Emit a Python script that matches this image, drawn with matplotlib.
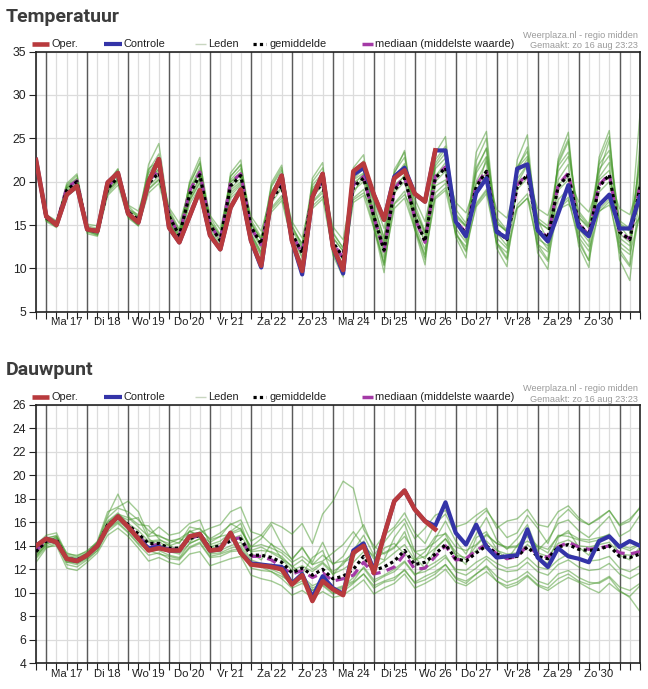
import numpy as np
import matplotlib.pyplot as plt
from matplotlib.lines import Line2D

plt.rcParams['font.family'] = ['Liberation Sans', 'DejaVu Sans']

W, H = 648, 689

# tijdstappen van 6 uur (zo 16 aug 18:00 ... ma 31 aug 12:00)
stappen = np.arange(60)
dagen = ['Ma 17', 'Di 18', 'Wo 19', 'Do 20', 'Vr 21', 'Za 22', 'Zo 23',
         'Ma 24', 'Di 25', 'Wo 26', 'Do 27', 'Vr 28', 'Za 29', 'Zo 30']

# ---------------- Temperatuur ----------------
temp_oper = [22.5, 16.0, 15.0, 18.5, 19.5, 14.5, 14.3, 19.9, 21.0, 16.3,
             15.3, 20.0, 22.6, 14.7, 13.0, 16.0, 19.0, 13.8, 12.2, 17.0,
             19.1, 13.2, 10.3, 18.2, 20.7, 13.2, 9.7, 18.2, 20.9, 12.5,
             9.8, 21.2, 22.1, 18.5, 15.6, 20.4, 21.3, 18.6, 17.7, 23.6]
temp_controle = [22.5, 16.0, 15.0, 18.5, 19.5, 14.5, 14.3, 19.9, 21.0, 16.3,
                 15.3, 20.0, 22.6, 14.7, 13.0, 16.0, 19.0, 13.8, 12.2, 17.0,
                 19.1, 13.2, 10.1, 18.2, 20.7, 13.2, 9.3, 18.2, 20.9, 12.5,
                 9.4, 20.8, 21.6, 18.5, 15.6, 20.6, 21.6, 18.6, 17.7, 23.6,
                 23.6, 15.4, 13.7, 18.7, 20.4, 14.2, 13.5, 21.5, 22.0, 14.4,
                 13.1, 16.3, 19.6, 14.8, 13.7, 17.3, 18.5, 14.6, 14.6, 18.3]
temp_gem = [22.3, 15.8, 15.1, 19.0, 20.0, 14.5, 14.2, 19.2, 20.5, 16.5,
            15.6, 19.8, 21.0, 16.0, 13.8, 18.5, 20.8, 15.0, 13.2, 19.5,
            20.7, 14.8, 12.8, 18.0, 19.5, 14.0, 11.8, 18.5, 19.8, 13.0,
            11.3, 19.4, 20.4, 16.0, 12.1, 19.0, 20.4, 16.0, 13.1, 20.4,
            21.6, 15.4, 14.0, 19.4, 21.2, 14.4, 13.3, 19.4, 20.8, 14.4,
            13.5, 19.4, 20.8, 15.2, 13.8, 19.4, 20.8, 14.2, 13.3, 19.4]
temp_med = [22.4, 15.9, 15.1, 19.3, 20.1, 14.5, 14.2, 19.4, 20.7, 16.6,
            15.5, 20.1, 21.3, 16.2, 13.7, 18.9, 21.1, 15.1, 13.2, 19.9,
            20.9, 14.7, 12.7, 18.3, 19.8, 14.0, 11.7, 18.6, 20.0, 12.9,
            11.2, 19.6, 20.6, 15.9, 12.0, 19.2, 20.6, 15.8, 13.0, 20.6,
            21.7, 15.5, 14.1, 19.6, 21.3, 14.3, 13.4, 19.6, 20.9, 14.5,
            13.6, 19.6, 21.0, 15.1, 13.9, 19.6, 20.9, 14.1, 13.4, 19.6]

temp_lid01 = [22.8,
 16.1, 15.4, 19.8, 20.9, 14.9, 14.6, 19.9, 21.4, 17.2, 16.0, 21.0, 22.6,
 16.8, 14.5, 19.6, 22.3, 15.9, 13.9, 20.6, 22.0, 15.6, 13.6, 19.4, 21.3,
 15.0, 12.5, 20.0, 21.6, 14.2, 12.3, 21.0, 22.4, 17.5, 13.4, 21.1, 22.8,
 17.4, 14.3, 22.5, 24.1, 16.8, 15.2, 21.6, 23.8, 15.9, 14.4, 21.7, 23.5,
 15.8, 14.9, 21.8, 23.4, 16.6, 15.1, 22.0, 23.6, 15.5, 14.6, 22.3]
temp_lid02 = [21.9,
 15.4, 14.7, 18.3, 19.2, 14.0, 13.7, 18.4, 19.6, 15.8, 14.9, 18.7, 19.8,
 15.3, 13.0, 17.4, 19.4, 14.2, 12.4, 18.1, 19.2, 13.9, 11.9, 16.5, 17.8,
 13.1, 10.6, 16.9, 18.0, 11.9, 10.1, 17.6, 18.4, 14.6, 10.7, 16.9, 18.1,
 14.5, 11.6, 18.0, 19.0, 13.9, 12.5, 17.1, 18.6, 12.9, 11.8, 16.9, 18.1,
 12.8, 11.9, 16.8, 17.9, 13.6, 12.0, 16.5, 17.7, 12.5, 11.6, 16.3]
temp_lid03 = [22.4,
 15.7, 15.0, 19.3, 20.3, 14.4, 14.0, 19.5, 20.9, 16.3, 15.2, 20.5, 21.9,
 15.7, 13.4, 19.2, 21.6, 14.6, 12.7, 20.2, 21.5, 14.5, 12.3, 18.9, 20.6,
 13.6, 11.2, 19.6, 21.0, 12.4, 10.5, 20.7, 21.9, 15.4, 11.2, 20.4, 22.1,
 15.1, 12.1, 22.1, 23.8, 14.6, 13.0, 21.3, 23.9, 13.5, 12.3, 21.5, 24.0,
 13.4, 12.6, 22.0, 24.6, 14.1, 12.5, 22.3, 25.2, 13.0, 12.0, 23.4]
temp_lid04 = [22.1,
 15.5, 14.8, 18.8, 19.7, 14.2, 13.8, 18.9, 20.1, 16.0, 15.0, 19.2, 20.3,
 15.4, 13.1, 17.8, 20.0, 14.3, 12.3, 18.7, 19.8, 13.8, 11.6, 17.0, 18.4,
 12.9, 10.4, 17.7, 19.0, 11.7, 9.6, 18.1, 19.1, 14.8, 10.3, 17.5, 18.9,
 14.6, 11.0, 18.7, 19.8, 14.0, 11.9, 17.5, 19.1, 12.8, 11.0, 17.3, 18.6,
 12.4, 10.8, 17.0, 18.2, 13.0, 10.9, 16.8, 18.0, 11.8, 10.2, 16.5]
temp_lid05 = [22.6,
 16.2, 15.5, 19.2, 20.1, 15.1, 14.9, 19.6, 20.8, 17.3, 16.6, 20.4, 21.4,
 17.0, 15.2, 19.1, 21.1, 16.1, 14.5, 20.0, 20.9, 16.0, 14.3, 18.6, 19.8,
 15.4, 13.5, 18.9, 20.0, 14.8, 13.3, 19.9, 20.7, 17.8, 14.6, 19.6, 20.6,
 18.0, 15.4, 20.7, 21.5, 17.6, 16.4, 19.8, 21.0, 16.8, 15.8, 19.9, 20.6,
 16.9, 16.1, 19.7, 20.5, 17.7, 16.5, 19.8, 20.4, 16.9, 16.2, 19.9]
temp_lid06 = [22.2,
 15.6, 14.9, 19.6, 20.7, 14.3, 13.9, 19.9, 21.5, 16.2, 15.1, 21.3, 23.2,
 15.6, 13.2, 20.0, 22.8, 14.4, 12.1, 21.0, 22.5, 14.1, 11.8, 19.6, 21.6,
 13.2, 10.5, 20.4, 22.2, 12.1, 9.6, 21.6, 23.1, 15.2, 10.4, 21.4, 23.4,
 14.9, 11.3, 23.3, 25.2, 14.2, 12.1, 22.4, 25.0, 13.0, 11.2, 22.5, 25.4,
 12.8, 11.0, 22.6, 25.7, 13.4, 10.9, 22.8, 25.9, 12.2, 10.4, 24.6]
temp_lid07 = [22.0,
 16.0, 15.2, 18.6, 19.6, 14.6, 14.5, 18.8, 20.2, 16.8, 16.2, 21.5, 22.4,
 16.3, 13.6, 18.0, 20.4, 15.3, 13.5, 19.0, 20.0, 15.2, 13.4, 18.5, 19.2,
 14.5, 12.9, 17.6, 18.7, 13.6, 12.0, 18.6, 20.8, 16.5, 13.0, 20.5, 21.0,
 16.9, 14.1, 19.5, 20.2, 16.1, 14.9, 18.4, 22.8, 15.2, 14.2, 21.6, 22.9,
 15.6, 13.2, 17.9, 19.2, 15.9, 14.6, 21.0, 24.7, 15.0, 13.4, 27.8]
temp_lid08 = [22.5,
 15.9, 15.2, 18.7, 19.5, 14.6, 14.4, 18.6, 19.9, 16.7, 15.9, 19.1, 20.2,
 16.4, 14.2, 17.8, 19.8, 15.4, 13.8, 18.4, 19.6, 15.1, 13.3, 16.8, 18.1,
 14.4, 12.4, 17.2, 18.3, 13.5, 12.0, 17.9, 18.7, 16.4, 12.9, 17.4, 18.5,
 16.3, 13.8, 18.2, 19.3, 15.9, 14.8, 17.3, 18.9, 15.2, 14.3, 17.0, 18.1,
 15.3, 14.6, 16.8, 17.4, 15.9, 14.8, 16.6, 17.3, 15.0, 14.3, 15.9]
temp_lid09 = [22.3,
 15.6, 14.9, 19.0, 20.0, 14.3, 13.9, 19.2, 20.4, 16.0, 14.9, 19.9, 21.2,
 15.5, 12.9, 18.8, 21.1, 14.2, 12.0, 19.6, 20.9, 13.7, 11.4, 18.3, 19.9,
 12.8, 10.0, 18.8, 20.4, 11.5, 9.0, 19.6, 20.9, 14.7, 9.5, 19.0, 20.8,
 14.4, 10.4, 20.6, 22.2, 13.6, 11.2, 20.0, 22.3, 12.3, 10.2, 19.8, 21.9,
 11.8, 9.9, 20.2, 22.0, 12.6, 10.1, 20.5, 22.2, 11.0, 8.6, 19.0]
temp_lid10 = [22.7,
 16.0, 15.3, 19.5, 20.4, 14.7, 14.4, 19.4, 20.8, 16.9, 15.9, 20.1, 21.5,
 16.5, 14.4, 18.9, 21.3, 15.5, 13.7, 19.9, 21.1, 15.3, 13.3, 18.7, 20.2,
 14.8, 12.8, 19.0, 20.6, 14.0, 12.4, 20.3, 21.5, 17.0, 13.6, 20.0, 21.9,
 16.8, 14.1, 21.8, 23.3, 16.3, 14.9, 21.0, 22.9, 15.5, 14.2, 20.9, 22.6,
 15.5, 14.5, 21.2, 22.9, 16.3, 14.9, 21.4, 23.0, 15.2, 14.4, 21.7]
temp_lid11 = [22.2,
 15.8, 15.0, 18.9, 19.8, 14.4, 14.1, 19.0, 20.3, 16.4, 15.5, 19.5, 20.6,
 15.9, 13.6, 18.2, 20.5, 14.9, 13.0, 19.2, 20.4, 14.7, 12.6, 17.6, 19.2,
 13.8, 11.4, 18.3, 19.5, 12.8, 11.0, 19.0, 20.0, 15.9, 11.8, 18.7, 20.0,
 16.0, 12.9, 20.0, 21.2, 15.5, 13.9, 19.0, 20.7, 14.5, 13.2, 19.1, 20.4,
 14.3, 13.3, 19.0, 20.2, 15.1, 13.8, 18.8, 20.0, 14.0, 13.0, 18.6]
temp_lid12 = [22.4,
 15.9, 15.1, 19.3, 20.2, 14.5, 14.1, 19.6, 21.0, 16.6, 15.4, 22.0, 24.4,
 16.2, 13.9, 19.8, 22.1, 15.0, 13.2, 20.6, 21.9, 14.6, 12.7, 19.9, 21.9,
 13.8, 11.9, 19.3, 20.5, 12.7, 11.0, 20.2, 21.0, 16.0, 11.9, 20.9, 23.6,
 16.1, 13.1, 21.5, 22.7, 15.3, 13.3, 23.4, 25.8, 14.1, 12.6, 20.3, 22.0,
 13.8, 12.2, 22.3, 24.9, 14.6, 13.1, 20.2, 21.3, 13.5, 12.6, 20.8]

# ---------------- Dauwpunt ----------------
dauw_oper = [14.0, 14.6, 14.3, 12.9, 12.7, 13.2, 14.0, 15.6, 16.5, 15.6,
             14.6, 13.6, 13.8, 13.6, 13.6, 14.8, 15.0, 13.6, 13.7, 15.1,
             13.4, 12.4, 12.3, 12.2, 12.0, 10.7, 11.5, 9.3, 11.0, 10.3,
             9.8, 13.4, 14.0, 11.7, 14.9, 17.8, 18.7, 17.1, 16.1, 15.4]
dauw_controle = [14.0, 14.6, 14.3, 12.9, 12.7, 13.2, 14.0, 15.6, 16.5, 15.6,
                 14.6, 13.8, 13.9, 13.6, 13.6, 14.8, 15.0, 13.6, 13.7, 15.1,
                 13.4, 12.5, 12.4, 12.3, 12.2, 10.8, 11.6, 9.6, 11.4, 10.4,
                 9.9, 13.6, 14.2, 11.9, 14.9, 17.8, 18.7, 17.1, 16.1, 15.7,
                 17.7, 15.1, 14.1, 15.8, 13.9, 13.0, 13.1, 13.2, 15.4, 13.0,
                 12.2, 13.8, 13.1, 12.9, 12.6, 14.4, 14.8, 13.9, 14.4, 14.0]
dauw_gem = [13.5, 14.4, 14.5, 12.9, 12.8, 13.2, 14.0, 15.8, 16.4, 15.8,
            15.0, 14.2, 14.2, 13.8, 13.8, 14.6, 14.9, 13.8, 14.0, 14.4,
            14.6, 13.2, 13.2, 13.0, 12.6, 11.7, 12.1, 11.5, 12.0, 11.2,
            11.4, 12.0, 13.1, 11.9, 12.2, 12.7, 13.6, 12.4, 12.6, 13.3,
            14.1, 12.9, 12.7, 13.4, 14.0, 13.3, 13.0, 13.1, 13.9, 13.1,
            12.9, 13.9, 14.1, 13.7, 13.6, 13.7, 14.0, 13.1, 13.0, 13.3]
dauw_med = [13.6, 14.4, 14.4, 12.9, 12.8, 13.2, 14.0, 15.7, 16.4, 15.7,
            14.8, 14.0, 14.1, 13.7, 13.7, 14.6, 14.9, 13.7, 13.9, 14.5,
            14.7, 13.1, 13.1, 12.8, 12.2, 11.6, 11.9, 11.3, 11.7, 11.0,
            11.2, 11.5, 12.6, 11.6, 11.8, 12.2, 13.3, 12.0, 12.1, 13.1,
            14.0, 12.8, 12.9, 13.6, 14.1, 13.3, 12.9, 13.1, 14.0, 13.3,
            13.0, 13.9, 14.3, 13.9, 13.7, 13.8, 14.0, 13.4, 13.3, 13.5]

dauw_lid01 = [13.0,
 14.1, 14.8, 13.4, 13.1, 13.6, 14.3, 16.4, 17.2, 16.9, 16.2, 15.3, 14.8,
 14.5, 14.2, 15.6, 15.4, 14.6, 15.1, 15.8, 16.2, 14.4, 14.9, 14.1, 13.6,
 12.9, 13.8, 12.6, 14.3, 12.4, 13.1, 14.6, 15.8, 13.7, 14.9, 15.6, 16.8,
 15.1, 14.2, 15.9, 16.7, 15.0, 14.1, 16.2, 17.0, 15.8, 14.7, 15.1, 16.6,
 15.5, 14.2, 16.3, 17.1, 16.2, 15.8, 16.4, 17.0, 15.8, 16.3, 17.2]
dauw_lid02 = [12.6,
 13.8, 14.2, 12.4, 12.2, 12.8, 13.6, 15.2, 15.9, 15.1, 14.1, 13.2, 13.4,
 12.9, 12.8, 13.8, 14.2, 13.0, 13.1, 13.5, 13.6, 12.1, 11.9, 11.8, 11.2,
 10.4, 10.8, 10.2, 10.6, 9.9, 10.1, 10.8, 11.6, 10.4, 10.9, 11.1, 12.0,
 10.8, 11.1, 11.6, 12.4, 11.2, 10.8, 11.6, 12.3, 11.4, 10.9, 11.2, 11.8,
 11.0, 10.7, 11.6, 11.9, 11.3, 10.9, 10.8, 11.3, 10.2, 9.6, 8.4]
dauw_lid03 = [13.8,
 14.6, 14.9, 13.1, 12.9, 13.4, 14.3, 16.6, 18.4, 16.5, 15.8, 15.7, 14.6,
 14.0, 14.3, 15.2, 15.0, 14.3, 14.8, 15.9, 15.4, 13.9, 14.6, 15.8, 14.1,
 12.8, 13.9, 12.4, 12.7, 13.4, 14.1, 15.2, 14.0, 13.1, 12.8, 14.7, 15.9,
 13.5, 12.9, 14.6, 16.1, 14.4, 13.3, 15.0, 16.4, 14.5, 13.7, 14.6, 15.8,
 13.6, 14.5, 15.9, 16.2, 15.3, 14.7, 15.6, 16.5, 14.8, 15.3, 16.6]
dauw_lid04 = [13.3,
 14.3, 14.6, 12.7, 12.5, 13.0, 13.8, 15.5, 16.1, 15.5, 14.7, 13.8, 13.9,
 13.5, 13.3, 14.2, 14.6, 13.4, 13.6, 14.0, 14.3, 12.8, 12.5, 12.3, 11.8,
 11.0, 11.4, 10.6, 11.0, 10.3, 10.6, 11.0, 12.2, 11.1, 11.5, 12.0, 12.7,
 11.6, 11.8, 12.3, 13.0, 12.0, 11.9, 12.6, 13.1, 12.5, 12.1, 12.3, 13.0,
 12.2, 12.0, 12.8, 13.3, 12.9, 12.7, 12.8, 13.1, 12.1, 11.8, 12.3]
dauw_lid05 = [14.1,
 14.9, 15.1, 13.3, 13.2, 13.5, 14.4, 16.9, 17.3, 17.8, 16.9, 14.9, 15.6,
 14.9, 15.1, 15.9, 16.2, 14.1, 14.4, 15.1, 15.5, 13.6, 13.9, 13.4, 12.9,
 11.9, 12.3, 11.8, 12.5, 11.6, 12.0, 12.6, 13.5, 12.1, 12.7, 13.4, 14.1,
 12.8, 13.1, 13.8, 14.6, 13.2, 13.0, 13.6, 14.4, 13.6, 13.3, 13.4, 14.1,
 13.4, 13.1, 14.2, 14.5, 14.0, 13.9, 14.1, 14.3, 13.3, 13.2, 13.6]
dauw_lid06 = [13.4,
 14.2, 14.4, 12.8, 12.6, 13.3, 14.2, 16.1, 16.8, 15.9, 15.3, 14.4, 14.5,
 14.2, 14.6, 14.3, 15.1, 15.5, 15.8, 16.9, 17.3, 15.2, 14.9, 16.0, 15.6,
 15.0, 15.9, 14.2, 16.7, 17.8, 19.5, 18.9, 15.4, 14.0, 13.3, 13.8, 15.2,
 13.0, 12.1, 13.7, 14.6, 13.5, 12.8, 14.0, 14.9, 14.2, 13.8, 13.9, 14.4,
 13.9, 13.4, 14.9, 14.8, 14.5, 14.3, 14.5, 14.9, 13.9, 13.6, 14.1]
dauw_lid07 = [12.9,
 13.9, 14.0, 12.1, 11.9, 12.6, 13.4, 14.9, 15.5, 14.8, 13.8, 12.7, 13.0,
 12.6, 12.4, 13.3, 13.5, 12.3, 12.6, 12.9, 13.1, 11.5, 11.2, 11.0, 10.6,
 9.8, 10.2, 9.6, 10.1, 9.6, 9.8, 10.4, 11.1, 9.9, 10.4, 10.8, 11.6,
 10.4, 10.8, 11.3, 12.0, 10.9, 10.6, 11.2, 11.8, 11.0, 10.6, 10.9, 11.5,
 10.7, 10.4, 11.2, 11.6, 11.0, 10.7, 10.9, 11.4, 10.5, 10.2, 10.8]
dauw_lid08 = [13.7,
 14.5, 14.7, 13.0, 12.7, 13.2, 14.0, 15.9, 16.6, 16.2, 16.4, 14.6, 14.0,
 14.1, 13.5, 15.3, 14.7, 14.0, 13.6, 15.2, 15.9, 13.4, 12.8, 14.2, 12.9,
 12.3, 11.6, 13.0, 13.6, 11.5, 12.6, 13.0, 14.4, 12.2, 13.8, 14.2, 13.3,
 12.8, 13.5, 14.8, 15.0, 13.2, 12.4, 14.7, 15.2, 13.7, 12.8, 14.0, 15.1,
 13.0, 12.5, 14.7, 15.3, 13.9, 13.2, 14.6, 15.0, 13.2, 12.8, 13.9]
dauw_lid09 = [13.2,
 14.0, 14.3, 12.6, 12.4, 12.9, 13.6, 15.4, 16.0, 15.2, 14.2, 13.6, 13.3,
 13.1, 12.9, 13.9, 14.3, 13.1, 13.3, 13.6, 13.8, 12.4, 12.2, 11.8, 11.4,
 10.9, 11.2, 10.4, 10.8, 10.2, 10.5, 11.3, 12.1, 10.9, 11.4, 11.8, 12.6,
 11.5, 12.1, 12.6, 13.2, 11.8, 11.5, 12.1, 12.9, 12.1, 11.8, 11.9, 12.6,
 11.8, 11.5, 12.4, 12.8, 12.2, 11.9, 12.0, 12.5, 11.6, 11.2, 11.7]
dauw_lid10 = [13.9,
 14.7, 14.8, 13.2, 13.0, 13.4, 14.2, 16.0, 16.7, 16.4, 15.6, 14.8, 14.9,
 14.4, 14.6, 15.2, 15.5, 14.5, 14.8, 15.0, 15.3, 13.9, 14.1, 13.8, 13.4,
 12.6, 13.1, 12.4, 13.2, 12.5, 12.7, 13.3, 14.2, 12.9, 13.4, 13.9, 14.8,
 13.5, 13.7, 14.3, 15.1, 13.9, 13.6, 14.1, 15.0, 14.2, 13.9, 14.0, 14.8,
 14.0, 13.7, 14.8, 15.1, 14.6, 14.5, 14.7, 14.9, 14.0, 13.8, 14.2]
dauw_lid11 = [13.6,
 14.4, 14.6, 13.0, 12.9, 13.1, 13.9, 15.6, 16.3, 15.7, 14.9, 14.3, 14.4,
 13.7, 13.9, 14.7, 15.2, 13.9, 14.2, 14.6, 14.9, 13.5, 13.6, 13.5, 13.1,
 12.2, 12.8, 12.0, 12.6, 11.8, 12.4, 13.6, 14.9, 13.2, 14.3, 15.4, 16.3,
 14.6, 15.5, 16.6, 17.0, 15.6, 15.9, 16.6, 17.2, 15.5, 16.1, 16.3, 17.1,
 15.8, 15.6, 16.9, 17.4, 16.4, 15.8, 16.3, 17.0, 15.7, 16.1, 17.3]
dauw_lid12 = [13.1,
 14.2, 14.4, 12.6, 12.6, 13.0, 13.9, 15.7, 16.3, 15.6, 14.7, 13.7, 13.6,
 13.2, 13.0, 14.2, 14.6, 13.3, 13.4, 13.8, 14.0, 12.6, 12.4, 12.0, 11.6,
 10.6, 11.0, 10.2, 10.7, 10.0, 10.4, 10.9, 11.6, 10.6, 11.0, 11.3, 11.9,
 10.9, 11.4, 11.8, 12.4, 11.3, 11.0, 11.6, 12.2, 11.0, 10.4, 10.7, 11.4,
 10.6, 10.2, 10.8, 11.3, 10.9, 10.4, 10.0, 10.8, 10.1, 9.7, 10.6]

temp_leden = [temp_lid01, temp_lid02, temp_lid03, temp_lid04, temp_lid05, temp_lid06,
              temp_lid07, temp_lid08, temp_lid09, temp_lid10, temp_lid11, temp_lid12]
dauw_leden = [dauw_lid01, dauw_lid02, dauw_lid03, dauw_lid04, dauw_lid05, dauw_lid06,
              dauw_lid07, dauw_lid08, dauw_lid09, dauw_lid10, dauw_lid11, dauw_lid12]

KLEUR_OPER = '#b83a3d'
KLEUR_CONTR = '#3434a8'
KLEUR_LEDEN = '#46982a'
KLEUR_MED = '#a43aa6'


def paneel(ax, leden, gem, med, contr, oper, yticks):
    for lid in leden:
        ax.plot(stappen, lid, color=KLEUR_LEDEN, alpha=0.5, lw=1.0, zorder=2)
    ax.plot(stappen, med, color=KLEUR_MED, lw=2.3, ls=(0, (3, 2)), zorder=3)
    ax.plot(stappen, gem, color='black', lw=2.3, ls=(0, (1, 1)), zorder=4)
    ax.plot(stappen, contr, color=KLEUR_CONTR, lw=3.0, zorder=5)
    ax.plot(stappen[:len(oper)], oper, color=KLEUR_OPER, lw=3.3, zorder=6)

    ax.set_xlim(0, 59)
    ax.set_ylim(yticks[0], yticks[-1])
    ax.set_yticks(yticks)
    ax.xaxis.remove_overlapping_locs = False
    ax.set_xticks(stappen)
    ax.set_xticks(np.arange(3, 59, 4), minor=True)
    ax.set_xticklabels(dagen, minor=True)
    ax.grid(which='major', color='#dcdcdc', lw=0.9)
    ax.set_axisbelow(True)
    for d in range(1, 60, 4):  # middernacht
        ax.axvline(d, color='#5a5a5a', lw=1.0, zorder=1.5)
    ax.tick_params(axis='x', which='major', length=5, labelbottom=False, color='#222222')
    ax.tick_params(axis='x', which='minor', length=0, pad=4, labelsize=8.2, labelcolor='#222222')
    ax.tick_params(axis='y', length=5, pad=2, labelsize=8.8, labelcolor='#222222', color='#222222')
    for s in ax.spines.values():
        s.set_color('#222222')
        s.set_linewidth(1.2)


def legenda(fig, dy, titel):
    fx = lambda px: px / W
    fy = lambda py: 1 - (py + dy) / H
    fig.text(fx(6), fy(17), titel, fontsize=14, fontweight='bold', color='#3c3c3c',
             va='center', ha='left', family=['Roboto', 'DejaVu Sans'])
    y = 44
    items = [
        (32, 49, dict(color=KLEUR_OPER, lw=3.3), 51, 'Oper.'),
        (104, 122, dict(color=KLEUR_CONTR, lw=3.0), 124, 'Controle'),
        (195, 206, dict(color='#c8d6c0', lw=1.0), 208, 'Leden'),
        (253, 266, dict(color='black', lw=2.3, ls=(0, (1, 1))), 269, 'gemiddelde'),
        (362, 373, dict(color=KLEUR_MED, lw=2.5, ls=(0, (5, 2, 1, 2))), 375,
         'mediaan (middelste waarde)'),
    ]
    for x0, x1, stijl, xt, tekst in items:
        fig.add_artist(Line2D([fx(x0), fx(x1)], [fy(y), fy(y)], solid_capstyle='butt',
                              dash_capstyle='butt', transform=fig.transFigure, **stijl))
        fig.text(fx(xt), fy(y), tekst, fontsize=7.9, color='#222222', va='center', ha='left')
    fig.text(fx(638), fy(35), 'Weerplaza.nl - regio midden', fontsize=6.6,
             color='#9a9a9a', va='center', ha='right')
    fig.text(fx(638), fy(46), 'Gemaakt: zo 16 aug 23:23', fontsize=6.6,
             color='#9a9a9a', va='center', ha='right')


fig = plt.figure(figsize=(W / 100, H / 100), dpi=100)
ax1 = fig.add_axes([36 / W, 1 - 311.7 / H, 604 / W, 260.1 / H])
ax2 = fig.add_axes([36 / W, 1 - 663.3 / H, 604 / W, 258.5 / H])

paneel(ax1, temp_leden, temp_gem, temp_med, temp_controle, temp_oper, np.arange(5, 36, 5))
paneel(ax2, dauw_leden, dauw_gem, dauw_med, dauw_controle, dauw_oper, np.arange(4, 27, 2))

legenda(fig, 0, 'Temperatuur')
legenda(fig, 353.2, 'Dauwpunt')

fig.savefig('out.png', dpi=100)
